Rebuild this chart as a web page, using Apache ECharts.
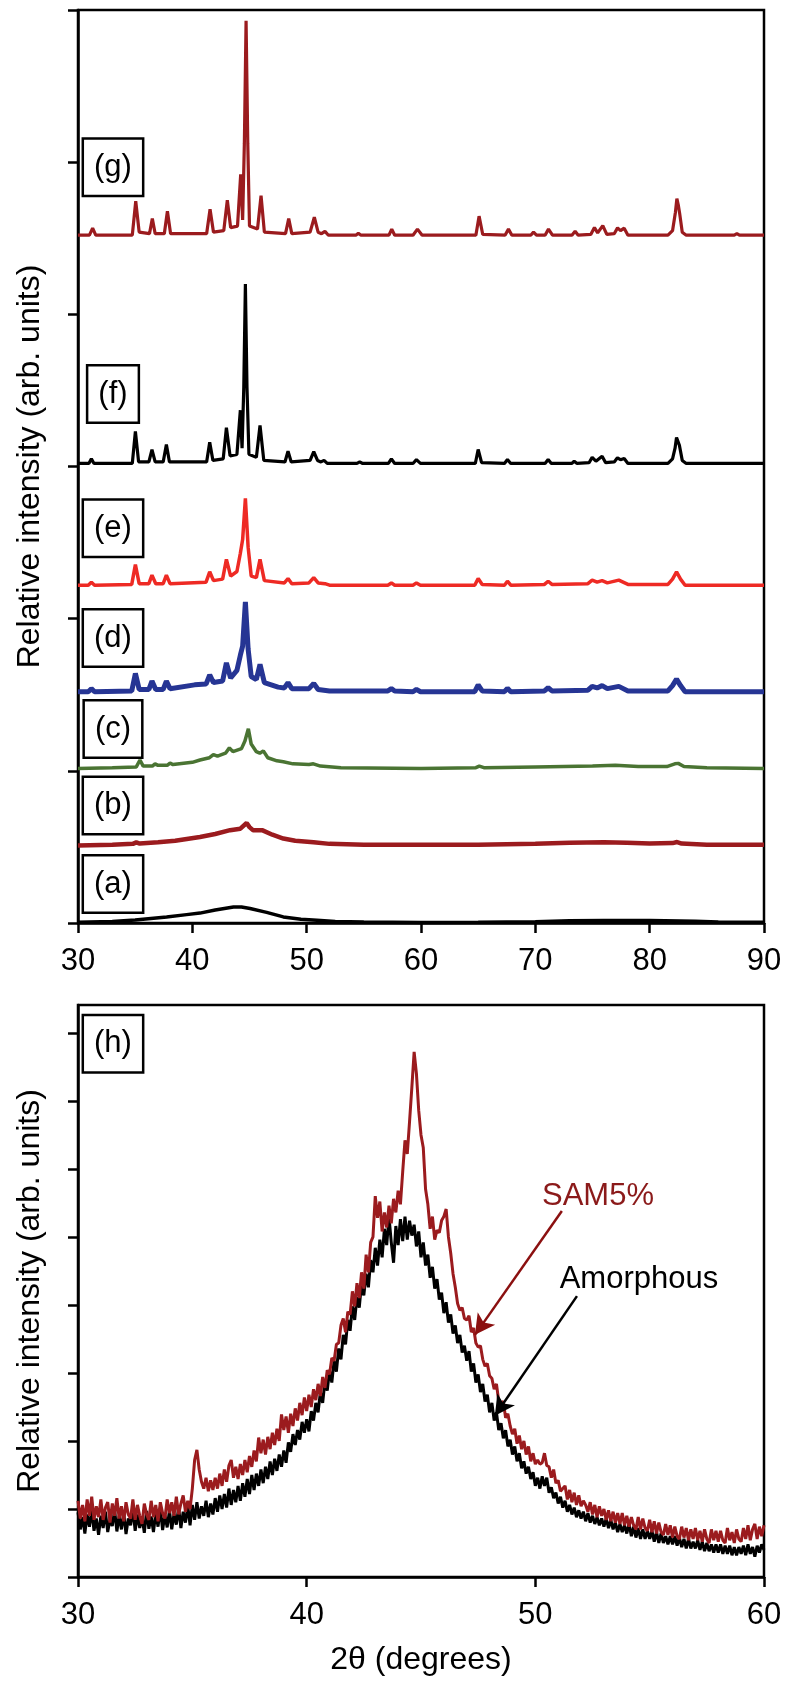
<!DOCTYPE html>
<html>
<head>
<meta charset="utf-8">
<script src="https://cdn.jsdelivr.net/npm/echarts@6/dist/echarts.min.js"></script>
<style>
html,body{margin:0;padding:0;background:#fff;}
#main{width:788px;height:1682px;}
</style>
</head>
<body>
<div id="main"></div>
<script>
// 上图：各样品衍射谱 [2θ, 相对各自基线的强度]
var patA = [[30,0.005],[33,0.01],[35,0.02],[37.75,0.04],[39.5,0.055],[40.67,0.065],[42,0.085],[43.6,0.105],[44.3,0.105],[45.05,0.095],[46.5,0.07],[47.96,0.04],[49.5,0.025],[50.9,0.018],[52.5,0.01],[55,0.006],[60,0.004],[65,0.005],[70,0.008],[73,0.014],[76,0.016],[80,0.016],[84,0.012],[86,0.006],[90,0.005]];

var patB = [[30,0],[33,0.005],[34.8,0.01],[35.1,0.02],[35.4,0.012],[37,0.02],[38.5,0.03],[40.67,0.055],[42,0.075],[43.3,0.1],[44.2,0.11],[44.75,0.147],[45.0,0.12],[45.3,0.1],[46.1,0.1],[47,0.07],[47.96,0.045],[49,0.03],[50.6,0.02],[52,0.01],[55,0.005],[60,0.005],[65,0.005],[70,0.01],[73,0.018],[76,0.02],[78,0.018],[80,0.012],[82.0,0.015],[82.4,0.022],[82.8,0.012],[85,0.005],[90,0.005]];

var patC = [[30,0],[33,0.005],[35.1,0.01],[35.42,0.055],[35.7,0.015],[36.5,0.015],[36.74,0.03],[37.0,0.02],[37.8,0.02],[38.05,0.035],[38.3,0.025],[40.0,0.04],[40.67,0.055],[41.5,0.07],[41.84,0.09],[42.2,0.08],[42.9,0.1],[43.24,0.135],[43.55,0.11],[44.3,0.13],[44.6,0.18],[44.9,0.26],[45.15,0.16],[45.6,0.11],[45.9,0.1],[46.21,0.115],[46.6,0.07],[47.4,0.05],[47.96,0.044],[48.8,0.03],[50.2,0.025],[50.59,0.03],[51.2,0.015],[53,0.005],[60,0],[64.8,0.005],[65.1,0.015],[65.5,0.005],[70,0.01],[75,0.015],[77,0.02],[79,0.012],[81.5,0.012],[82.2,0.03],[82.5,0.033],[83,0.012],[85,0.005],[90,0]];

var patD = [[30,0],[30.9,0],[31.17,0.02],[31.45,0],[34.7,0.005],[35.02,0.12],[35.35,0.015],[36.2,0.015],[36.47,0.07],[36.8,0.015],[37.45,0.015],[37.73,0.07],[38.05,0.02],[40.2,0.045],[41.2,0.05],[41.52,0.11],[41.85,0.06],[42.65,0.07],[42.98,0.19],[43.35,0.09],[43.9,0.14],[44.2,0.24],[44.4,0.3],[44.64,0.59],[44.88,0.28],[45.15,0.1],[45.6,0.08],[45.92,0.18],[46.3,0.06],[47.5,0.03],[48.05,0.025],[48.37,0.06],[48.7,0.02],[50.2,0.02],[50.62,0.055],[51.0,0.015],[52,0.005],[57.1,0.005],[57.41,0.02],[57.7,0.005],[59.3,0],[59.6,0.015],[59.95,0],[64.7,0],[65.0,0.044],[65.35,0.005],[67.3,0],[67.56,0.022],[67.85,0],[70.8,0.005],[71.12,0.026],[71.45,0.005],[74.6,0.01],[74.97,0.035],[75.4,0.025],[75.84,0.04],[76.3,0.02],[77.3,0.035],[78.1,0.005],[81.6,0.005],[82.0,0.04],[82.35,0.083],[82.7,0.04],[83.1,0],[90,0]];

var patE = [[30,0],[30.9,0],[31.17,0.02],[31.45,0],[34.7,0.005],[35.02,0.135],[35.35,0.01],[36.2,0.01],[36.47,0.066],[36.8,0.01],[37.45,0.01],[37.73,0.066],[38.05,0.01],[41.2,0.02],[41.52,0.088],[41.85,0.03],[42.65,0.04],[42.98,0.17],[43.35,0.06],[43.9,0.09],[44.2,0.21],[44.4,0.3],[44.64,0.57],[44.88,0.25],[45.15,0.06],[45.6,0.05],[45.92,0.17],[46.3,0.03],[48.05,0.015],[48.37,0.044],[48.7,0.01],[50.2,0.015],[50.62,0.05],[51.0,0.015],[51.6,0.01],[52,0],[57.1,0],[57.41,0.015],[57.7,0],[59.3,0],[59.6,0.015],[59.95,0],[64.7,0],[65.0,0.044],[65.35,0.005],[67.3,0],[67.56,0.026],[67.85,0],[70.8,0.005],[71.12,0.026],[71.45,0.005],[74.6,0.01],[74.97,0.033],[75.4,0.02],[75.84,0.03],[76.3,0.015],[77.3,0.033],[78.1,0.005],[81.6,0.005],[82.0,0.04],[82.35,0.088],[82.7,0.04],[83.1,0],[90,0]];

var patF = [[30,0],[30.95,0],[31.17,0.03],[31.4,0],[34.75,0],[35.02,0.21],[35.3,0.01],[36.2,0.01],[36.47,0.09],[36.75,0.01],[37.45,0.01],[37.73,0.125],[38.0,0.01],[41.25,0.01],[41.52,0.14],[41.8,0.02],[42.7,0.03],[42.98,0.235],[43.3,0.05],[43.9,0.06],[44.2,0.35],[44.35,0.1],[44.5,0.5],[44.64,1.18],[44.78,0.5],[44.95,0.06],[45.6,0.04],[45.92,0.25],[46.25,0.02],[48.1,0.01],[48.37,0.08],[48.65,0.01],[50.3,0.02],[50.62,0.077],[50.95,0.02],[51.25,0.01],[51.52,0.02],[51.8,0],[54.4,0],[54.64,0.01],[54.9,0],[57.15,0],[57.41,0.03],[57.7,0],[59.3,0],[59.6,0.025],[59.95,0],[64.75,0],[65.0,0.092],[65.3,0.005],[67.3,0],[67.56,0.026],[67.85,0],[70.85,0],[71.12,0.026],[71.4,0],[73.2,0],[73.4,0.015],[73.65,0],[74.7,0.005],[74.97,0.04],[75.3,0.015],[75.84,0.048],[76.15,0.005],[76.9,0.01],[77.18,0.037],[77.45,0.025],[77.77,0.033],[78.1,0],[81.6,0],[82.0,0.03],[82.22,0.1],[82.35,0.17],[82.6,0.12],[82.85,0.02],[83.2,0],[90,0]];

var patG = [[30,0],[31.0,0],[31.28,0.046],[31.55,0],[34.75,0],[35.05,0.223],[35.35,0.02],[36.25,0.01],[36.5,0.11],[36.75,0.01],[37.55,0.01],[37.82,0.158],[38.1,0.01],[41.25,0.01],[41.55,0.17],[41.85,0.02],[42.75,0.03],[43.06,0.23],[43.35,0.05],[43.95,0.06],[44.23,0.4],[44.4,0.1],[44.55,0.6],[44.7,1.41],[44.85,0.6],[45.0,0.06],[45.7,0.04],[46.01,0.26],[46.3,0.02],[48.15,0.01],[48.43,0.11],[48.7,0.01],[50.3,0.02],[50.67,0.118],[51.0,0.02],[51.3,0.01],[51.6,0.025],[51.9,0],[54.3,0],[54.52,0.013],[54.75,0],[57.2,0],[57.44,0.04],[57.7,0],[59.3,0],[59.69,0.04],[60.1,0],[64.8,0],[65.08,0.125],[65.4,0.005],[67.35,0],[67.65,0.04],[67.95,0],[69.6,0],[69.84,0.02],[70.1,0],[70.85,0],[71.15,0.04],[71.5,0],[73.2,0],[73.48,0.026],[73.75,0],[74.85,0.005],[75.17,0.05],[75.45,0.015],[75.9,0.063],[76.25,0.005],[76.9,0.01],[77.19,0.048],[77.45,0.03],[77.77,0.046],[78.1,0],[81.6,0],[82.0,0.03],[82.25,0.15],[82.38,0.24],[82.5,0.2],[82.62,0.145],[82.85,0.02],[83.2,0],[87.4,0],[87.63,0.01],[87.85,0],[90,0]];

// 各谱线的纵向偏移 (a)~(g)
var offsets = [0, 0.51, 1.016, 1.52, 2.22, 3.02, 4.52];
var labelsTop = ['(a)', '(b)', '(c)', '(d)', '(e)', '(f)', '(g)'];

// 下图 (h)：2θ 从 30 到 60，步长 0.1
var hStart = 30, hStep = 0.1;
var amorphous = [
0.95,0.70,0.88,0.64,0.92,0.74,0.98,0.68,0.86,0.62,
0.90,0.72,0.96,0.66,0.85,0.75,0.99,0.67,0.90,0.70,
0.94,0.63,0.86,0.76,1.00,0.68,0.92,0.72,0.88,0.65,
0.97,0.71,0.89,0.66,0.94,0.74,1.01,0.69,0.91,0.73,
0.98,0.70,0.93,0.77,1.02,0.72,0.96,0.80,1.05,0.76,
1.06,0.84,1.10,0.86,1.04,0.90,1.12,0.88,1.08,0.92,
1.16,0.96,1.20,1.00,1.22,1.02,1.30,1.06,1.28,1.10,
1.34,1.12,1.38,1.18,1.44,1.22,1.50,1.28,1.52,1.34,
1.58,1.38,1.62,1.44,1.70,1.50,1.74,1.56,1.80,1.62,
1.86,1.68,1.98,1.84,2.10,1.94,2.16,2.02,2.28,2.12,
2.32,2.14,2.44,2.30,2.56,2.42,2.72,2.56,2.88,2.74,
3.04,2.86,3.18,3.02,3.36,3.20,3.56,3.42,3.78,3.62,
3.98,3.78,4.12,3.96,4.32,4.14,4.46,4.26,4.66,4.48,
4.84,4.58,4.96,4.70,5.12,4.88,5.30,4.92,4.62,5.16,
4.88,5.26,4.94,5.30,4.96,5.24,5.02,5.18,4.86,5.08,
4.70,4.92,4.58,4.74,4.40,4.56,4.24,4.38,4.08,4.18,
3.88,4.04,3.74,3.86,3.58,3.70,3.44,3.56,3.30,3.40,
3.18,3.32,3.02,3.14,2.86,2.98,2.72,2.84,2.58,2.68,
2.42,2.56,2.30,2.42,2.16,2.26,2.04,2.16,1.92,2.02,
1.80,1.92,1.70,1.82,1.60,1.70,1.52,1.62,1.44,1.54,
1.34,1.46,1.30,1.48,1.34,1.46,1.24,1.32,1.16,1.24,
1.08,1.18,1.02,1.12,0.96,1.06,0.92,1.02,0.88,0.98,
0.86,0.96,0.82,0.94,0.80,0.90,0.78,0.88,0.76,0.86,
0.74,0.86,0.72,0.84,0.70,0.80,0.66,0.78,0.66,0.76,
0.64,0.78,0.60,0.74,0.58,0.72,0.56,0.70,0.56,0.68,
0.56,0.68,0.52,0.66,0.50,0.64,0.50,0.60,0.48,0.60,
0.48,0.60,0.46,0.58,0.44,0.56,0.42,0.56,0.42,0.52,
0.42,0.54,0.40,0.52,0.38,0.50,0.38,0.48,0.36,0.48,
0.36,0.48,0.34,0.46,0.34,0.46,0.32,0.44,0.32,0.44,
0.34,0.46,0.32,0.48,0.34,0.44,0.30,0.46,0.36,0.48,
0.40];
var sam5 = [
1.12,0.86,1.06,0.82,1.14,0.90,1.18,0.84,1.04,0.88,
1.14,0.84,1.02,1.10,0.80,1.08,0.90,1.16,0.86,1.04,
0.82,1.10,0.92,0.86,1.14,0.84,1.06,0.90,0.78,1.08,
0.92,0.84,1.12,0.88,1.06,0.82,1.10,0.94,0.86,1.14,
0.94,1.10,0.90,1.18,0.92,1.08,1.20,0.96,1.12,1.00,
1.30,1.72,1.87,1.58,1.40,1.30,1.46,1.26,1.42,1.28,
1.46,1.30,1.52,1.34,1.58,1.40,1.64,1.72,1.46,1.62,
1.44,1.66,1.50,1.72,1.54,1.78,1.62,1.86,1.70,2.05,
1.82,2.02,1.80,2.06,1.88,2.12,1.94,2.18,2.00,2.39,
2.16,2.36,2.12,2.40,2.22,2.48,2.30,2.56,2.38,2.64,
2.44,2.68,2.50,2.76,2.60,2.84,2.66,2.94,2.78,3.04,
2.98,3.22,3.18,3.42,3.44,3.70,3.80,3.60,3.90,3.86,
4.20,3.98,4.32,4.10,4.48,4.24,4.74,4.48,4.92,5.00,
5.60,5.28,5.52,5.08,5.36,5.14,5.46,5.20,5.56,5.36,
5.68,5.48,5.96,6.42,6.22,6.70,7.20,7.72,7.40,6.86,
6.50,6.31,5.70,5.48,5.12,5.30,4.96,5.10,5.06,5.24,
5.30,5.41,5.00,4.76,4.46,4.26,4.02,3.92,3.96,3.80,
3.78,3.84,3.60,3.66,3.44,3.38,3.40,3.20,3.10,3.14,
2.96,2.92,2.76,2.84,2.58,2.56,2.58,2.34,2.40,2.22,
2.10,2.18,1.96,2.08,1.88,2.00,1.80,1.92,1.70,1.82,
1.66,1.72,1.66,1.68,1.82,1.64,1.62,1.46,1.58,1.38,
1.42,1.26,1.30,1.34,1.14,1.28,1.10,1.24,1.06,1.20,
1.04,1.12,1.06,0.96,1.10,0.92,1.06,0.88,1.04,0.90,
1.00,0.84,0.98,0.82,0.96,0.80,0.94,0.78,0.94,0.76,
0.90,0.74,0.88,0.76,0.70,0.88,0.70,0.86,0.72,0.68,
0.84,0.66,0.82,0.64,0.80,0.66,0.62,0.78,0.62,0.76,
0.58,0.74,0.60,0.56,0.74,0.58,0.72,0.54,0.70,0.56,
0.72,0.54,0.68,0.52,0.70,0.56,0.50,0.70,0.54,0.68,
0.52,0.68,0.54,0.50,0.72,0.54,0.66,0.50,0.70,0.56,
0.52,0.72,0.56,0.76,0.54,0.70,0.78,0.56,0.74,0.60,
0.76];

var FONT = 'Liberation Sans, Arial, sans-serif';

function shift(pts, off) {
	return pts.map(function (p) { return [p[0], +(p[1] + off).toFixed(4)]; });
}
function toPairs(vals) {
	return vals.map(function (v, i) { return [+(hStart + i * hStep).toFixed(2), v]; });
}

// 标签框 (a)~(h)
function boxLabel(text, coord) {
	return {
		symbol: 'rect', symbolSize: 1, silent: true,
		itemStyle: {color: 'rgba(0,0,0,0)'},
		label: {
			show: true, position: 'inside', formatter: text,
			color: '#000', fontSize: 31, fontFamily: FONT, lineHeight: 31,
			backgroundColor: '#fff', borderColor: '#000', borderWidth: 2.5,
			padding: [12, 10, 12, 10]
		},
		data: [{coord: coord}]
	};
}

var myChart = echarts.init(document.getElementById('main'));

var topPats = [patA, patB, patC, patD, patE, patF, patG];
var topColors = ['#000000', '#9b1b1e', '#4a7433', '#263594', '#ee2a24', '#000000', '#9b1b1e'];
var topWidths = [3.5, 4.5, 3.5, 5, 3.5, 3.2, 3.2];
var labelY = [0.256, 0.772, 1.275, 1.873, 2.595, 3.476, 4.967];

var series = [];
for (var i = 0; i < topPats.length; i++) {
	series.push({
		name: labelsTop[i], type: 'line', xAxisIndex: 0, yAxisIndex: 0,
		data: shift(topPats[i], offsets[i]),
		showSymbol: false, symbol: 'none', silent: true,
		lineStyle: {color: topColors[i], width: topWidths[i]},
		markPoint: boxLabel(labelsTop[i], [33.06, labelY[i]])
	});
}

series.push({
	name: 'Amorphous', type: 'line', xAxisIndex: 1, yAxisIndex: 1,
	data: toPairs(amorphous),
	showSymbol: false, symbol: 'none', silent: true,
	lineStyle: {color: '#000000', width: 3},
	markLine: {
		silent: true, symbol: ['none', 'arrow'], symbolSize: [16, 20],
		label: {show: false},
		lineStyle: {color: '#000000', width: 2.5, type: 'solid'},
		data: [[{coord: [51.82, 4.13]}, {coord: [48.23, 2.37]}]]
	},
	markPoint: {
		symbol: 'rect', symbolSize: 1, silent: true,
		itemStyle: {color: 'rgba(0,0,0,0)'},
		label: {show: true, position: 'inside', formatter: 'Amorphous', color: '#000', fontSize: 31, fontFamily: FONT},
		data: [{coord: [54.53, 4.38]}]
	}
});
series.push({
	name: 'SAM5%', type: 'line', xAxisIndex: 1, yAxisIndex: 1,
	data: toPairs(sam5),
	showSymbol: false, symbol: 'none', silent: true,
	lineStyle: {color: '#9b1b1e', width: 3},
	markLine: {
		silent: true, symbol: ['none', 'arrow'], symbolSize: [16, 20],
		label: {show: false},
		lineStyle: {color: '#8b1010', width: 2.5, type: 'solid'},
		data: [[{coord: [51.16, 5.38]}, {coord: [47.36, 3.56]}]]
	},
	markPoint: {
		symbol: 'rect', symbolSize: 1, silent: true,
		itemStyle: {color: 'rgba(0,0,0,0)'},
		label: {show: true, position: 'inside', formatter: 'SAM5%', color: '#8b1a1a', fontSize: 31, fontFamily: FONT},
		data: [{coord: [52.74, 5.6]}]
	}
});
// (h) 标签框
series.push({
	type: 'line', xAxisIndex: 1, yAxisIndex: 1, data: [], silent: true,
	markPoint: boxLabel('(h)', [31.53, 7.84])
});

var axisLine = {lineStyle: {color: '#000', width: 2.5}};
var tickOut = {inside: false, length: 10, lineStyle: {color: '#000', width: 2.5}};

var option = {
	animation: false,
	textStyle: {fontFamily: FONT},
	grid: [
		{left: 78, top: 10, width: 686, height: 913, show: true, borderColor: '#000', borderWidth: 2.5, backgroundColor: 'transparent'},
		{left: 78, top: 1005, width: 686, height: 572, show: true, borderColor: '#000', borderWidth: 2.5, backgroundColor: 'transparent'}
	],
	xAxis: [
		{
			gridIndex: 0, type: 'value', min: 30, max: 90, interval: 10,
			axisLine: axisLine, axisTick: tickOut, splitLine: {show: false},
			axisLabel: {color: '#000', fontSize: 31, margin: 23, fontFamily: FONT}
		},
		{
			gridIndex: 1, type: 'value', min: 30, max: 60, interval: 10,
			axisLine: axisLine, axisTick: tickOut, splitLine: {show: false},
			axisLabel: {color: '#000', fontSize: 31, margin: 23, fontFamily: FONT},
			name: '2θ (degrees)', nameLocation: 'middle', nameGap: 67,
			nameTextStyle: {color: '#000', fontSize: 32, fontFamily: FONT}
		}
	],
	yAxis: [
		{
			gridIndex: 0, type: 'value', min: 0, max: 6, interval: 1,
			axisLine: axisLine, axisTick: tickOut, splitLine: {show: false},
			axisLabel: {show: false},
			name: 'Relative intensity (arb. units)', nameLocation: 'middle', nameGap: 32,
			nameTextStyle: {color: '#000', fontSize: 32, fontFamily: FONT}
		},
		{
			gridIndex: 1, type: 'value', min: 0, max: 8.41, interval: 1,
			axisLine: axisLine, splitLine: {show: false},
			axisTick: {inside: false, length: 10, lineStyle: {color: '#000', width: 2.5}, customValues: [0, 1, 2, 3, 4, 5, 6, 7, 8]},
			axisLabel: {show: false},
			name: 'Relative intensity (arb. units)', nameLocation: 'middle', nameGap: 32,
			nameTextStyle: {color: '#000', fontSize: 32, fontFamily: FONT}
		}
	],
	series: series
};

myChart.setOption(option);
</script>
</body>
</html>
